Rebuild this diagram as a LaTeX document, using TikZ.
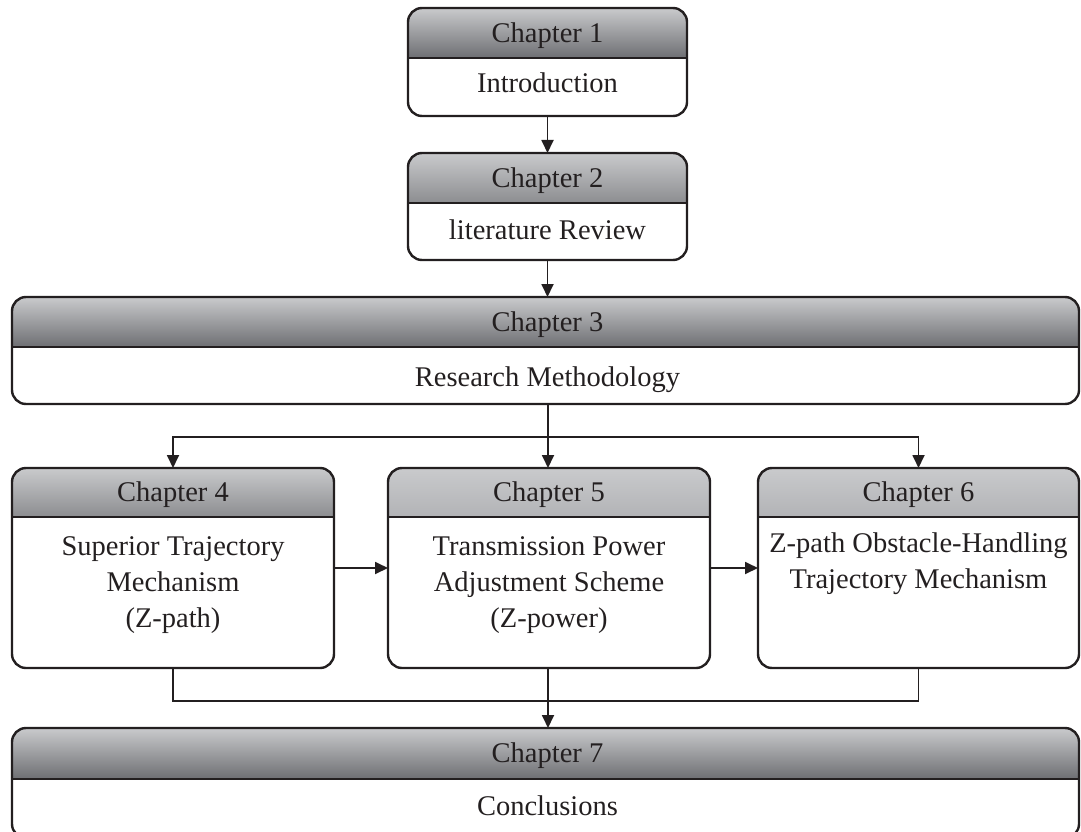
\documentclass[tikz,border=0pt]{standalone}
\usepackage{fontspec}
\setmainfont{Liberation Serif}
\usetikzlibrary{arrows.meta,calc}
\definecolor{ink}{HTML}{231F20}
\definecolor{hdtop}{HTML}{C9CACC}
\definecolor{hdbotA}{HTML}{6E6F73}
\definecolor{hdbotB}{HTML}{8C8D90}
\definecolor{hdbotC}{HTML}{B2B3B6}
\newcommand\hdshade[6]{% x1,y1,x2,y2,ymid,bottomcolor
  \begin{scope}
    \clip[rounded corners=14pt] (#1,#2) rectangle (#3,#4);
    \shade[top color=hdtop,bottom color=#6] (#1,#2) rectangle (#3,#5);
  \end{scope}}
\begin{document}
\begin{tikzpicture}[x=1pt,y=-1pt,
  chbox/.style={draw=ink,line width=2.4pt,rounded corners=14pt,inner sep=0pt,outer sep=0pt,fill=none},
  divider/.style={draw=ink,line width=2.4pt},
  lbl/.style={font=\fontsize{28.5}{36}\selectfont,text=ink,inner sep=0pt,anchor=base,align=center},
  conn/.style={draw=ink,line width=1.8pt},
  arr/.style={conn,-{Triangle[length=13pt,width=12pt]}}]
\useasboundingbox (0,0) rectangle (1081,832);
% header shading
\hdshade{408}{8}{687}{116}{58}{hdbotA}
\hdshade{408}{153}{687}{260}{203}{hdbotB}
\hdshade{12}{297}{1079}{404}{347}{hdbotA}
\hdshade{12}{468}{334}{668}{517}{hdbotB}
\hdshade{388}{468}{710}{668}{517}{hdbotC}
\hdshade{758}{468}{1079}{668}{517}{hdbotC}
\hdshade{12}{728}{1079}{838}{779}{hdbotA}
% boxes
\node[chbox,minimum width=279pt,minimum height=108pt] (c1) at (547.5,62) {};
\node[chbox,minimum width=279pt,minimum height=107pt] (c2) at (547.5,206.5) {};
\node[chbox,minimum width=1067pt,minimum height=107pt] (c3) at (545.5,350.5) {};
\node[chbox,minimum width=322pt,minimum height=200pt] (c4) at (173,568) {};
\node[chbox,minimum width=322pt,minimum height=200pt] (c5) at (549,568) {};
\node[chbox,minimum width=321pt,minimum height=200pt] (c6) at (918.5,568) {};
\node[chbox,minimum width=1067pt,minimum height=110pt] (c7) at (545.5,783) {};
% dividers
\draw[divider] (c1.west |- 0,58) -- (c1.east |- 0,58);
\draw[divider] (c2.west |- 0,203) -- (c2.east |- 0,203);
\draw[divider] (c3.west |- 0,347) -- (c3.east |- 0,347);
\draw[divider] (c4.west |- 0,517) -- (c4.east |- 0,517);
\draw[divider] (c5.west |- 0,517) -- (c5.east |- 0,517);
\draw[divider] (c6.west |- 0,517) -- (c6.east |- 0,517);
\draw[divider] (c7.west |- 0,779) -- (c7.east |- 0,779);
% labels (anchor = baseline of last line)
\node[lbl] (t1) at (547.5,42.5) {Chapter 1};
\node[lbl] (b1) at (547.5,93) {Introduction};
\node[lbl] (t2) at (547.5,187.5) {Chapter 2};
\node[lbl] (b2) at (547.5,239) {literature Review};
\node[lbl] (t3) at (547.5,331.5) {Chapter 3};
\node[lbl] (b3) at (547.5,386) {Research Methodology};
\node[lbl] (t4) at (173,501.5) {Chapter 4};
\node[lbl] (b4) at (173,627) {Superior Trajectory\\Mechanism\\(Z-path)};
\node[lbl] (t5) at (549,501.5) {Chapter 5};
\node[lbl] (b5) at (549,627) {Transmission Power\\Adjustment Scheme\\(Z-power)};
\node[lbl] (t6) at (918.5,501.5) {Chapter 6};
\node[lbl] (b6) at (918.5,588) {Z-path Obstacle-Handling\\Trajectory Mechanism};
\node[lbl] (t7) at (547.5,762.5) {Chapter 7};
\node[lbl] (b7) at (547.5,815) {Conclusions};
% connectors
\draw[arr] (c1.south) -- (c2.north);
\draw[arr] (c2.south) -- (c2.south |- c3.north);
\coordinate (s1) at (548,437);
\coordinate (j1) at (548,701);
\draw[arr] (s1 |- c3.south) -- (s1 |- c5.north);
\draw[arr] (s1) -| (c4.north);
\draw[arr] (s1) -| (c6.north);
\draw[arr] (c4) -- (c5);
\draw[arr] (c5) -- (c6);
\draw[conn] (c4.south) |- (j1);
\draw[conn] (c6.south) |- (j1);
\draw[arr] (s1 |- c5.south) -- (s1 |- c7.north);
\end{tikzpicture}
\end{document}
